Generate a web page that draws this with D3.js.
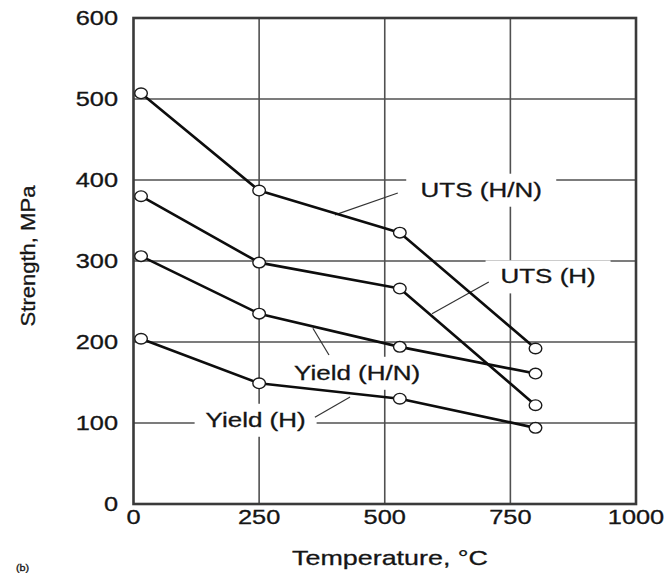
<!DOCTYPE html>
<html>
<head>
<meta charset="utf-8">
<script src="https://cdn.jsdelivr.net/npm/d3@7"></script>
<style>
  html, body { margin: 0; padding: 0; background: #fff; }
  svg { display: block; }
  text { font-family: "Liberation Sans", Arial, Helvetica, sans-serif; fill: #151515; stroke: #151515; stroke-width: 0.3; }
</style>
</head>
<body>
<div id="chart"></div>
<script>
// ---- data ----
const temperatures = [15, 250, 530, 800];           // °C
const utsHN   = [507, 387, 335, 192];               // MPa
const utsH    = [380, 298, 266, 122];
const yieldHN = [306, 235, 194, 161];
const yieldH  = [204, 149, 130, 94];
const seriesNames = ["UTS (H/N)", "UTS (H)", "Yield (H/N)", "Yield (H)"];
const xTicks = [0, 250, 500, 750, 1000];
const yTicks = [0, 100, 200, 300, 400, 500, 600];
const xTitle = "Temperature, °C";
const yTitle = "Strength, MPa";
// label annotations in data units: [labelT, labelV, leaderFromT, leaderFromV, leaderToT, leaderToV]
const labelAnchors = [
  [692, 388, 526, 384, 401, 357],
  [825, 281, 707, 274, 594, 235],
  [445, 162, 389, 184, 357, 217],
  [243, 104, 361, 107, 431, 132]
];

const W = 667, H = 573;
const svg = d3.select("#chart").append("svg").attr("width", W).attr("height", H);

const x = d3.scaleLinear().domain([0, 1000]).range([133.5, 636]);
const y = d3.scaleLinear().domain([0, 600]).range([504, 18]);

const SX = 1.3; // horizontal stretch of the original lettering

// gridlines
const g = svg.append("g");
g.selectAll("line.gx").data(xTicks.slice(1, -1)).join("line")
  .attr("x1", d => x(d)).attr("x2", d => x(d))
  .attr("y1", y(0)).attr("y2", y(600))
  .attr("stroke", "#505050").attr("stroke-width", 1.6);
g.selectAll("line.gy").data(yTicks.slice(1, -1)).join("line")
  .attr("x1", x(0)).attr("x2", x(1000))
  .attr("y1", d => y(d)).attr("y2", d => y(d))
  .attr("stroke", "#505050").attr("stroke-width", 1.6);

// white boxes behind labels (break the gridlines)
const labels = seriesNames.map((n, i) => ({ name: n, a: labelAnchors[i] }));
const boxW = [150, 125, 140, 122];
svg.selectAll("rect.lb").data(labels).join("rect")
  .attr("x", (d, i) => x(d.a[0]) - boxW[i] / 2)
  .attr("y", d => y(d.a[1]) - 16)
  .attr("width", (d, i) => boxW[i])
  .attr("height", 33)
  .attr("fill", "#fff");

// frame
svg.append("rect")
  .attr("x", x(0)).attr("y", y(600))
  .attr("width", x(1000) - x(0)).attr("height", y(0) - y(600))
  .attr("fill", "none").attr("stroke", "#3a3a3a").attr("stroke-width", 2.6);

// leader lines
svg.selectAll("line.leader").data(labels).join("line")
  .attr("x1", d => x(d.a[2])).attr("y1", d => y(d.a[3]))
  .attr("x2", d => x(d.a[4])).attr("y2", d => y(d.a[5]))
  .attr("stroke", "#333").attr("stroke-width", 1.2);

// series lines
const allSeries = [utsHN, utsH, yieldHN, yieldH];
const line = d3.line().x((d, i) => x(temperatures[i])).y(d => y(d));
svg.selectAll("path.s").data(allSeries).join("path")
  .attr("d", line)
  .attr("fill", "none").attr("stroke", "#0d0d0d").attr("stroke-width", 2.6)
  .attr("stroke-linejoin", "round");

// markers
allSeries.forEach(s => {
  svg.append("g").selectAll("ellipse").data(s).join("ellipse")
    .attr("cx", (d, i) => x(temperatures[i])).attr("cy", d => y(d))
    .attr("rx", 6.3).attr("ry", 5.3)
    .attr("fill", "#fff").attr("stroke", "#1a1a1a").attr("stroke-width", 1.4);
});

// series labels
svg.selectAll("text.lbl").data(labels).join("text")
  .attr("transform", d => `translate(${x(d.a[0])},${y(d.a[1]) + 7}) scale(${SX},1)`)
  .attr("text-anchor", "middle").attr("font-size", 20)
  .text(d => d.name);

// y tick labels
svg.selectAll("text.yt").data(yTicks).join("text")
  .attr("transform", d => `translate(118,${y(d) + 7}) scale(${SX},1)`)
  .attr("text-anchor", "end").attr("font-size", 19.5)
  .text(d => d);

// x tick labels
svg.selectAll("text.xt").data(xTicks).join("text")
  .attr("transform", d => `translate(${x(d)},${524}) scale(${SX},1)`)
  .attr("text-anchor", "middle").attr("font-size", 19.5)
  .text(d => d);

// axis titles
svg.append("text")
  .attr("transform", `translate(390,565) scale(1.28,1)`)
  .attr("text-anchor", "middle").attr("font-size", 21)
  .text(xTitle);
svg.append("text")
  .attr("transform", `translate(35,256) rotate(-90) scale(1.13,1)`)
  .attr("text-anchor", "middle").attr("font-size", 19.5)
  .text(yTitle);

// panel tag at the bottom-left corner (mostly hidden in the reference); kept small so it fits
svg.append("text")
  .attr("transform", `translate(16,571) scale(1.2,1)`)
  .attr("font-size", 9)
  .text("(b)");
</script>
</body>
</html>
